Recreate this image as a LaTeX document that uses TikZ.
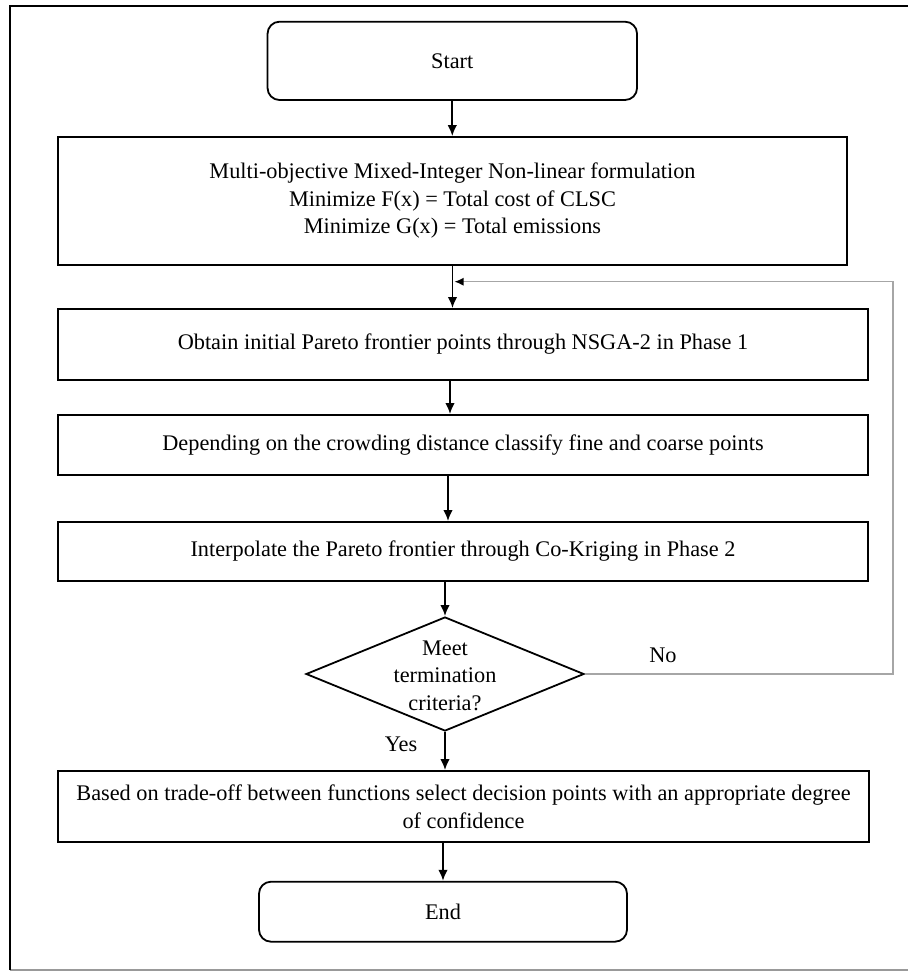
\documentclass[tikz,border=0pt]{standalone}
\usepackage{fontspec}
\setmainfont{Liberation Serif}
\usetikzlibrary{shapes.geometric,arrows.meta}
\newcommand\mainfnt{\fontsize{22.3}{27.5}\selectfont}
\tikzset{
  boxstyle/.style={draw, line width=1.8pt, inner sep=0pt, align=center, font=\mainfnt},
  termstyle/.style={boxstyle, rounded corners=12pt},
  arr/.style={line width=1.8pt, -{Latex[length=11pt,width=9.5pt]}},
  fb/.style={line width=1.2pt, draw=black!35, -{Latex[length=9pt,width=8pt,color=black]}},
  lbl/.style={font=\mainfnt, inner sep=0pt, align=center},
}
\begin{document}
\begin{tikzpicture}[x=1pt,y=-1pt]
\useasboundingbox (0,0) rectangle (908,971);
% frame
\draw[line width=1.4pt, black!40] (10,970) -- (908,970);
\draw[line width=2.4pt] (10,970) -- (10,6) -- (908,6);

\node[termstyle, minimum width=369.5pt, minimum height=78.3pt] (start) at (452.3,60.85) {Start};
\node[boxstyle, minimum width=789pt, minimum height=128pt] (form) at (452.5,201)
  {Multi-objective Mixed-Integer Non-linear formulation\\Minimize F(x) = Total cost of CLSC\\Minimize G(x) = Total emissions};
\node[boxstyle, minimum width=810pt, minimum height=71pt] (nsga) at (463,344.5)
  {Obtain initial Pareto frontier points through NSGA-2 in Phase 1};
\node[boxstyle, minimum width=810pt, minimum height=60pt] (crowd) at (463,445)
  {Depending on the crowding distance classify fine and coarse points};
\node[boxstyle, minimum width=810pt, minimum height=59pt] (interp) at (463,551.5)
  {Interpolate the Pareto frontier through Co-Kriging in Phase 2};
\node[draw, line width=1.8pt, diamond, minimum width=278pt, minimum height=114pt, inner sep=0pt] (term) at (445,674) {};
\node[lbl] (termtxt) at (445,675.5) {Meet\\termination\\criteria?};
\node[boxstyle, minimum width=811pt, minimum height=71pt] (trade) at (463.5,806.5)
  {Based on trade-off between functions select decision points with an appropriate degree\\of confidence};
\node[termstyle, minimum width=368pt, minimum height=60pt] (end) at (443,911.7) {End};

\node[lbl] (no) at (663,655) {No};
\node[lbl] (yes) at (401,744) {Yes};

\coordinate (fbx) at (893,674);
\coordinate (fbin) at (454.5,281.7);

\draw[arr] (start.south) -- (start.south |- form.north);
\draw[arr] (form.south) -- (form.south |- nsga.north);
\draw[arr] ([xshift=-13pt]nsga.south) -- ([xshift=-13pt]nsga.south |- crowd.north);
\draw[arr] ([xshift=-15pt]crowd.south) -- ([xshift=-15pt]crowd.south |- interp.north);
\draw[arr] (interp.south -| term.north) -- (term.north);
\draw[arr] (term.south) -- (term.south |- trade.north);
\draw[arr] (trade.south -| end.north) -- (end.north);
\draw[fb] (term.east) -- (fbx) |- (fbin);
\end{tikzpicture}
\end{document}
